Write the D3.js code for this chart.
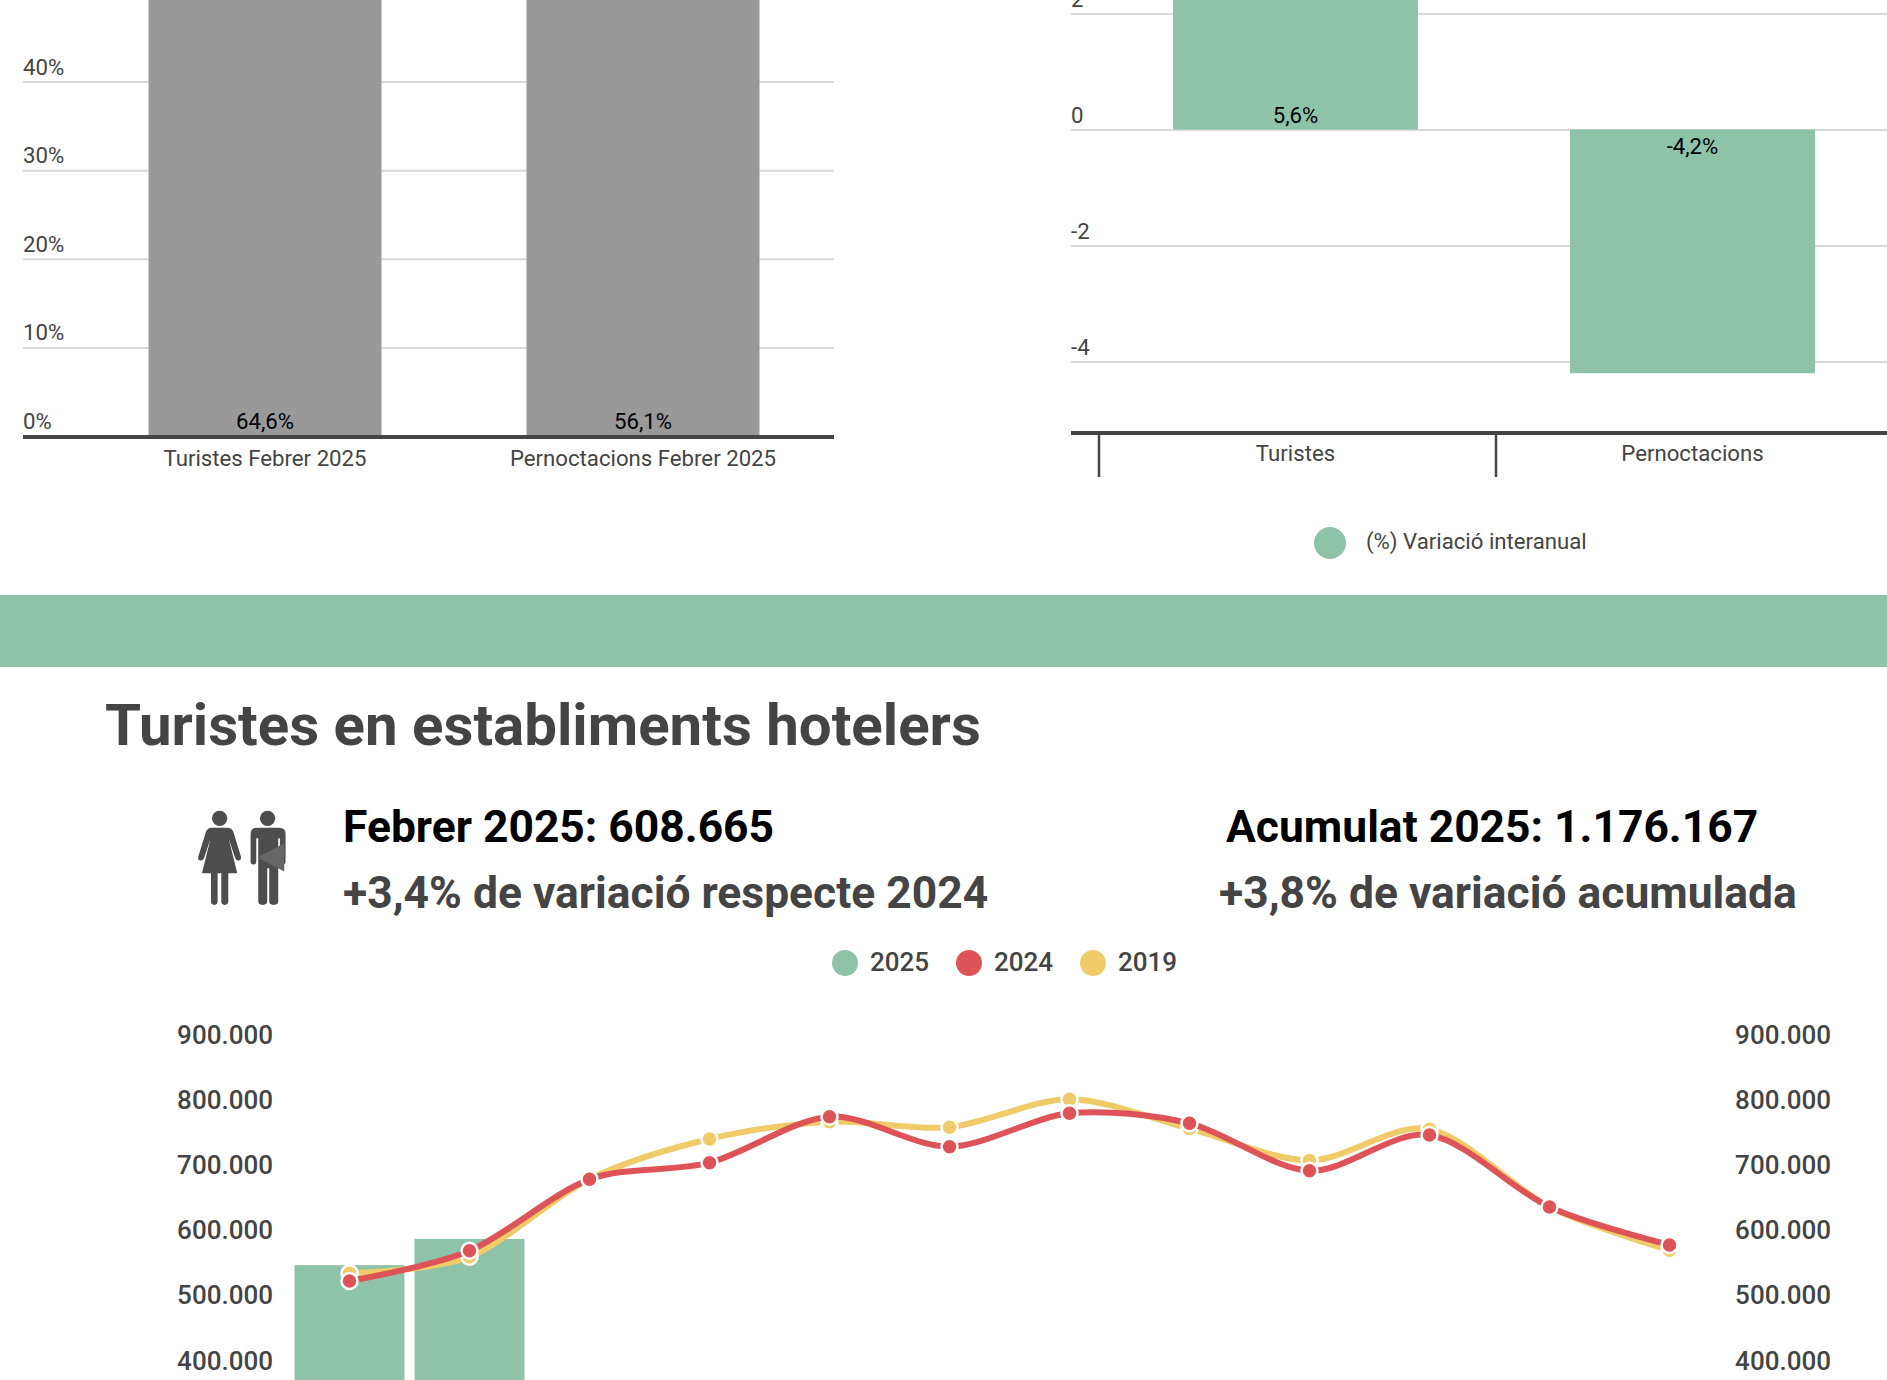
<!DOCTYPE html>
<html><head><meta charset="utf-8">
<script src="https://cdn.jsdelivr.net/npm/d3@7/dist/d3.min.js"></script>
<style>
html,body{margin:0;padding:0;background:#fff;overflow:hidden}
svg{display:block}
svg,svg text{font-family:Roboto,sans-serif}
</style></head><body>
<svg id="c" width="1887" height="1380"></svg>
<script>
const shareCats=["Turistes Febrer 2025","Pernoctacions Febrer 2025"];
const shareVals=[64.6,56.1];
const shareLabels=["64,6%","56,1%"];
const shareTicks=[0,10,20,30,40];
const varCats=["Turistes","Pernoctacions"];
const varVals=[5.6,-4.2];
const varLabels=["5,6%","-4,2%"];
const varTicks=[-4,-2,0,2];
const months=["Gen","Feb","Mar","Abr","Mai","Jun","Jul","Ago","Set","Oct","Nov","Des"];
const s2025=[568500,608665];
const s2024=[544200,590600,700100,725600,796200,750200,801400,786000,713300,768100,657700,599400];
const s2019=[556000,581500,700500,762000,788500,780000,823000,778000,729000,777000,657700,591500];
const touristTicks=[400000,500000,600000,700000,800000,900000];
const GREEN="#8fc3a9",RED="#de5357",YEL="#f0cb69",INK="#444444",GRID="#d9d9d9";
const svg=d3.select("#c");
const fmt=d=>d3.format(",")(d).replace(/,/g,".");
const SM=22.2;

// ---- share chart
{
 const y=d3.scaleLinear().domain([0,40]).range([436,81.6]);
 const x=d3.scaleBand().domain(shareCats).range([76,832]).paddingInner(.3836).paddingOuter(.1918);
 const g=svg.append("g");
 const ax=g.append("g").attr("transform","translate(23,0)")
   .call(d3.axisLeft(y).tickValues(shareTicks).tickSize(-811).tickPadding(0).tickFormat(d=>d+"%"));
 ax.select(".domain").remove();
 ax.attr("font-family",null);
 ax.selectAll(".tick line").attr("stroke",GRID).attr("stroke-width",2).filter(d=>d===0).remove();
 ax.selectAll(".tick text").attr("x",0).attr("dy",-7.5).attr("text-anchor","start").attr("fill",INK).style("font-size",SM+"px");
 g.selectAll(".b").data(shareVals).join("rect").attr("x",(d,i)=>x(shareCats[i])).attr("width",x.bandwidth())
   .attr("y",d=>y(d)).attr("height",d=>y(0)-y(d)).attr("fill","#999999");
 g.selectAll(".l").data(shareVals).join("text").attr("x",(d,i)=>x(shareCats[i])+x.bandwidth()/2).attr("y",y(0)-7)
   .attr("text-anchor","middle").attr("fill","#000").style("font-size",SM+"px").text((d,i)=>shareLabels[i]);
 g.append("line").attr("x1",23).attr("x2",834).attr("y1",y(0)+1).attr("y2",y(0)+1).attr("stroke",INK).attr("stroke-width",4);
 g.selectAll(".c").data(shareCats).join("text").attr("x",d=>x(d)+x.bandwidth()/2).attr("y",465.5)
   .attr("text-anchor","middle").attr("fill",INK).style("font-size",SM+"px").text(d=>d);
}
// ---- variation chart
{
 const y=d3.scaleLinear().domain([-4,2]).range([361.6,13.4]);
 const x=d3.scaleBand().domain(varCats).range([1097,1891]).paddingInner(.383).paddingOuter(.1915);
 const g=svg.append("g");
 const ax=g.append("g").attr("transform","translate(1071,0)")
   .call(d3.axisLeft(y).tickValues(varTicks).tickSize(-816).tickPadding(0).tickFormat(d=>String(d)));
 ax.select(".domain").remove();
 ax.attr("font-family",null);
 ax.selectAll(".tick line").attr("stroke",GRID).attr("stroke-width",2);
 ax.selectAll(".tick text").attr("x",0).attr("dy",-7).attr("text-anchor","start").attr("fill",INK).style("font-size",SM+"px");
 g.selectAll(".b").data(varVals).join("rect").attr("x",(d,i)=>x(varCats[i])).attr("width",x.bandwidth())
   .attr("y",d=>Math.min(y(d),y(0))).attr("height",d=>Math.abs(y(d)-y(0))).attr("fill",GREEN);
 g.selectAll(".l").data(varVals).join("text").attr("x",(d,i)=>x(varCats[i])+x.bandwidth()/2)
   .attr("y",d=>d>0?y(0)-6:y(0)+25).attr("text-anchor","middle").attr("fill","#000").style("font-size",SM+"px").text((d,i)=>varLabels[i]);
 g.append("line").attr("x1",1071).attr("x2",1887).attr("y1",433).attr("y2",433).attr("stroke",INK).attr("stroke-width",4);
 g.selectAll(".t").data(varCats).join("line").attr("x1",d=>x(d)-x.step()*x.paddingInner()/2+2).attr("x2",d=>x(d)-x.step()*x.paddingInner()/2+2)
   .attr("y1",433).attr("y2",477).attr("stroke",INK).attr("stroke-width",2.5);
 g.selectAll(".c").data(varCats).join("text").attr("x",d=>x(d)+x.bandwidth()/2).attr("y",461)
   .attr("text-anchor","middle").attr("fill",INK).style("font-size",SM+"px").text(d=>d);
 g.append("circle").attr("cx",1330).attr("cy",543).attr("r",16).attr("fill",GREEN);
 g.append("text").attr("x",1366).attr("y",549).attr("fill",INK).style("font-size",SM+"px").text("(%) Variació interanual");
}
// ---- band + header
svg.append("rect").attr("x",0).attr("y",595).attr("width",1887).attr("height",72).attr("fill",GREEN);
const T=(x,y,s,t,c,w)=>svg.append("text").attr("x",x).attr("y",y).attr("fill",c).style("font-size",s+"px").style("font-weight",w||700).text(t);
T(105,745,58.2,"Turistes en establiments hotelers",INK);
T(343,842,44.4,"Febrer 2025: 608.665","#000");
T(343,908,44.4,"+3,4% de variació respecte 2024",INK);
T(1226,842,44.4,"Acumulat 2025: 1.176.167","#000");
T(1219,908,44.4,"+3,8% de variació acumulada",INK);
// icon
{
 const ic=svg.append("g").attr("transform","translate(180,790) scale(.333)").attr("fill","#4d4d4d");
 ic.append("circle").attr("cx",119).attr("cy",85).attr("r",23);
 ic.append("path").attr("d","M95 113H143Q155 113 160 125L183 200Q185 212 175 212Q168 212 165 203L146 145L172 250H145V335Q145 345 134 345Q124 345 124 335V250H113V335Q113 345 103 345Q93 345 93 335V250H66L92 145L73 203Q70 212 62 212Q52 212 55 200L78 125Q83 113 95 113Z");
 ic.append("circle").attr("cx",263).attr("cy",85).attr("r",23);
 ic.append("path").attr("d","M232 113H298Q317 113 317 132V215Q317 224 308 224Q300 224 300 215V145H295V335Q295 345 281 345Q268 345 268 335V235H262V335Q262 345 248 345Q235 345 235 335V145H229V215Q229 224 220 224Q212 224 212 215V132Q212 113 232 113Z");
 ic.append("path").attr("d","M232 203L313 160V245Z").attr("fill","#666666");
}
// legend
{
 const items=[["2025",GREEN,845],["2024",RED,969],["2019",YEL,1093]];
 items.forEach(d=>{
  svg.append("circle").attr("cx",d[2]).attr("cy",963).attr("r",13).attr("fill",d[1]);
  svg.append("text").attr("x",d[2]+25).attr("y",971).attr("fill",INK).style("font-size","26px").style("font-weight",500).text(d[0]);
 });
}
// ---- tourists chart
{
 const y=d3.scaleLinear().domain([600000,900000]).range([1244.6,1049]);
 const x=d3.scaleBand().domain(months).range([289.5,1729.5]).paddingInner(.0833).paddingOuter(.0417);
 const cx=i=>x(months[i])+x.bandwidth()/2;
 const g=svg.append("g");
 [[273,"end"],[1831,"end"]].forEach((a,k)=>{
  const ax=g.append("g").attr("transform",`translate(${a[0]},0)`)
   .call((k?d3.axisRight(y):d3.axisLeft(y)).tickValues(touristTicks).tickSize(0).tickPadding(0).tickFormat(fmt));
  ax.select(".domain").remove();
  ax.attr("font-family",null);
  ax.selectAll(".tick text").attr("x",0).attr("dy",-6).attr("text-anchor",a[1]).attr("fill",INK).style("font-size","26px").style("font-weight",500);
 });
 g.selectAll(".b").data(s2025).join("rect").attr("x",(d,i)=>x(months[i])).attr("width",x.bandwidth())
  .attr("y",d=>y(d)).attr("height",d=>y(0)-y(d)).attr("fill",GREEN);
 const line=d3.line().x((d,i)=>cx(i)).y(d=>y(d)).curve(d3.curveCardinal.tension(0.1));
 [[s2019,YEL],[s2024,RED]].forEach(s=>{
  g.append("path").datum(s[0]).attr("d",line).attr("fill","none").attr("stroke",s[1]).attr("stroke-width",6);
  g.append("g").selectAll("circle").data(s[0]).join("circle").attr("cx",(d,i)=>cx(i)).attr("cy",d=>y(d)).attr("r",8)
   .attr("fill",s[1]).attr("stroke","#fff").attr("stroke-width",2.5);
 });
}
</script></body></html>
